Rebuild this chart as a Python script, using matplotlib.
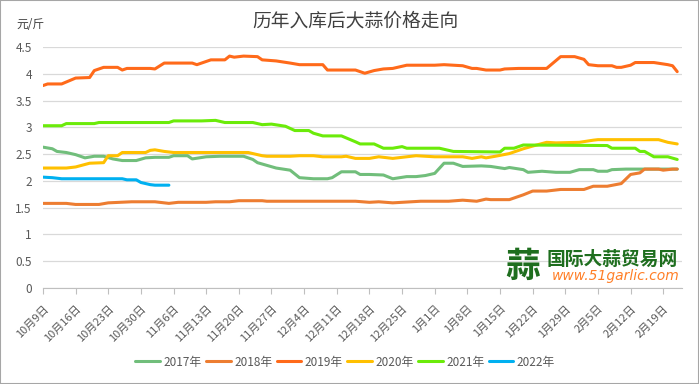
import datetime
import matplotlib
matplotlib.use("Agg")
import matplotlib.pyplot as plt
from matplotlib.patches import Rectangle
from matplotlib.ticker import FuncFormatter

plt.rcParams['font.family'] = ['Noto Sans CJK SC', 'DejaVu Sans']

# day index counted from Oct 9, prices in yuan per jin
start = datetime.date(2021, 10, 9)
n_days = 137

days_2017 = [0, 2, 3, 5, 7, 9, 11, 13, 15, 17, 20, 22, 24, 27, 28, 31, 32, 35, 38, 43, 45, 46, 48, 50,
             53, 55, 58, 61, 62, 64, 67, 68, 70, 73, 75, 78, 80, 82, 84, 86, 88, 90, 94, 96, 99, 100,
             103, 104, 107, 110, 113, 115, 118, 119, 121, 122, 125, 136]
price_2017 = [2.63, 2.60, 2.55, 2.53, 2.49, 2.43, 2.46, 2.46, 2.41, 2.38, 2.38, 2.43, 2.44, 2.44, 2.47,
              2.47, 2.41, 2.45, 2.46, 2.46, 2.40, 2.34, 2.29, 2.24, 2.20, 2.06, 2.04, 2.04, 2.06, 2.17,
              2.17, 2.12, 2.12, 2.11, 2.04, 2.08, 2.08, 2.10, 2.14, 2.33, 2.33, 2.27, 2.28, 2.27, 2.23,
              2.25, 2.21, 2.16, 2.18, 2.16, 2.16, 2.21, 2.21, 2.18, 2.18, 2.21, 2.22, 2.22]

days_2018 = [0, 5, 7, 12, 14, 19, 24, 25, 27, 29, 35, 37, 40, 42, 47, 48, 67, 70, 72, 75, 77, 81, 87,
             90, 93, 95, 96, 100, 102, 103, 105, 108, 111, 116, 118, 121, 124, 126, 128, 129, 132, 133,
             135, 136]
price_2018 = [1.58, 1.58, 1.56, 1.56, 1.59, 1.61, 1.61, 1.60, 1.58, 1.60, 1.60, 1.61, 1.61, 1.63, 1.63,
              1.62, 1.62, 1.60, 1.61, 1.59, 1.60, 1.62, 1.62, 1.64, 1.62, 1.66, 1.65, 1.65, 1.71, 1.74,
              1.81, 1.81, 1.84, 1.84, 1.90, 1.90, 1.95, 2.12, 2.15, 2.22, 2.22, 2.20, 2.22, 2.22]

days_2019 = [0, 1, 4, 7, 10, 11, 12, 13, 16, 17, 18, 23, 24, 26, 32, 33, 36, 39, 40, 41, 43, 46, 47,
             50, 53, 55, 60, 61, 67, 69, 71, 73, 75, 78, 84, 86, 90, 92, 93, 95, 98, 99, 102, 108, 111,
             114, 116, 117, 119, 122, 123, 124, 126, 127, 131, 134, 135, 136]
price_2019 = [3.78, 3.81, 3.81, 3.92, 3.93, 4.06, 4.09, 4.12, 4.12, 4.07, 4.10, 4.10, 4.09, 4.20, 4.20,
              4.17, 4.26, 4.26, 4.33, 4.31, 4.33, 4.32, 4.26, 4.24, 4.20, 4.17, 4.17, 4.07, 4.07, 4.01,
              4.06, 4.09, 4.10, 4.16, 4.16, 4.17, 4.15, 4.10, 4.10, 4.07, 4.07, 4.09, 4.10, 4.10, 4.32,
              4.32, 4.27, 4.17, 4.15, 4.15, 4.12, 4.12, 4.16, 4.21, 4.21, 4.17, 4.15, 4.04]

days_2020 = [0, 5, 7, 10, 13, 14, 16, 17, 22, 23, 24, 26, 28, 44, 47, 48, 53, 55, 58, 60, 64, 65, 67,
             70, 72, 75, 80, 84, 90, 92, 94, 95, 97, 100, 103, 105, 108, 110, 115, 118, 119, 132, 134,
             136]
price_2020 = [2.24, 2.24, 2.26, 2.33, 2.34, 2.47, 2.47, 2.53, 2.53, 2.57, 2.58, 2.55, 2.53, 2.53, 2.47,
              2.46, 2.46, 2.47, 2.47, 2.45, 2.45, 2.46, 2.42, 2.42, 2.45, 2.42, 2.47, 2.45, 2.45, 2.42,
              2.45, 2.43, 2.46, 2.51, 2.60, 2.65, 2.72, 2.71, 2.72, 2.76, 2.77, 2.77, 2.72, 2.69]

days_2021 = [0, 4, 5, 11, 12, 27, 28, 34, 37, 39, 45, 47, 49, 52, 54, 57, 58, 60, 64, 67, 68, 71, 73,
             75, 77, 78, 85, 88, 98, 99, 101, 103, 121, 122, 127, 128, 129, 131, 134, 136]
price_2021 = [3.03, 3.03, 3.07, 3.07, 3.09, 3.09, 3.12, 3.12, 3.13, 3.09, 3.09, 3.05, 3.06, 3.02, 2.94,
              2.94, 2.89, 2.84, 2.84, 2.73, 2.69, 2.69, 2.61, 2.61, 2.64, 2.61, 2.61, 2.55, 2.54, 2.61,
              2.61, 2.67, 2.66, 2.61, 2.61, 2.55, 2.55, 2.45, 2.45, 2.40]

days_2022 = [0, 2, 4, 17, 18, 20, 21, 23, 24, 27]
price_2022 = [2.07, 2.06, 2.04, 2.04, 2.02, 2.02, 1.97, 1.93, 1.92, 1.92]

series = [
    ("2017年", days_2017, price_2017, "#71BE7B"),
    ("2018年", days_2018, price_2018, "#ED7D31"),
    ("2019年", days_2019, price_2019, "#FF6A1A"),
    ("2020年", days_2020, price_2020, "#FFC000"),
    ("2021年", days_2021, price_2021, "#6BEB0A"),
    ("2022年", days_2022, price_2022, "#00B0F0"),
]

fig = plt.figure(figsize=(6.99, 3.84), dpi=100)
ax = fig.add_axes([0.0615, 0.25, 0.914, 0.6276])

for name, d, p, c in series:
    ax.plot(d, p, color=c, lw=2.2, label=name, solid_capstyle='round')

# Format the plot
ax.set_xlim(0, n_days)
ax.set_ylim(0, 4.5)
ax.set_yticks([i * 0.5 for i in range(10)])
ax.yaxis.set_major_formatter(FuncFormatter(lambda v, pos: f"{v:g}"))
ax.grid(axis='y', color='#D9D9D9', lw=0.9)
ax.set_axisbelow(True)

tick_days = list(range(0, n_days, 7))
tick_labels = []
for d in tick_days:
    dt = start + datetime.timedelta(days=d)
    tick_labels.append(f"{dt.month}月{dt.day}日")
ax.set_xticks(tick_days)
ax.set_xticklabels(tick_labels, rotation=45, ha='right', rotation_mode='anchor')

for s in ['top', 'right', 'left']:
    ax.spines[s].set_visible(False)
ax.spines['bottom'].set_color('#BFBFBF')
ax.tick_params(axis='x', colors='#BFBFBF', labelcolor='#595959', labelsize=8, length=4, pad=7)
ax.tick_params(axis='y', length=0, labelcolor='#595959', labelsize=8.5, pad=8)

fig.text(0.508, 0.945, "历年入库后大蒜价格走向", ha='center', va='center', fontsize=13.5,
         color='#404040', fontweight='medium')
fig.text(0.024, 0.935, "元/斤", ha='left', va='center', fontsize=8.5, color='#404040')

ax.legend(loc='center', bbox_to_anchor=(0.494, 0.057), bbox_transform=fig.transFigure,
          ncol=6, frameon=False, fontsize=8.5, handlelength=2.1, handletextpad=0.3,
          columnspacing=0.35, labelcolor='#595959')

# watermark
fig.text(523 / 699, 1 - 266 / 384, "蒜", ha='center', va='center', fontsize=25,
         color='#1E6E1E', fontweight='bold')
fig.text(547 / 699, 1 - 259 / 384, "国际大蒜贸易网", ha='left', va='center', fontsize=13.5,
         color='#1E6E1E', fontweight='bold')
fig.text(680 / 699, 1 - 276 / 384, "www.51garlic.com", ha='right', va='center', fontsize=10,
         color='#FF7F27', style='italic', family='DejaVu Sans')

fig.patches.append(Rectangle((0, 0), 1, 1, transform=fig.transFigure, fill=False,
                             ec='#A6A6A6', lw=1.5))

fig.savefig("out.png", dpi=100)
